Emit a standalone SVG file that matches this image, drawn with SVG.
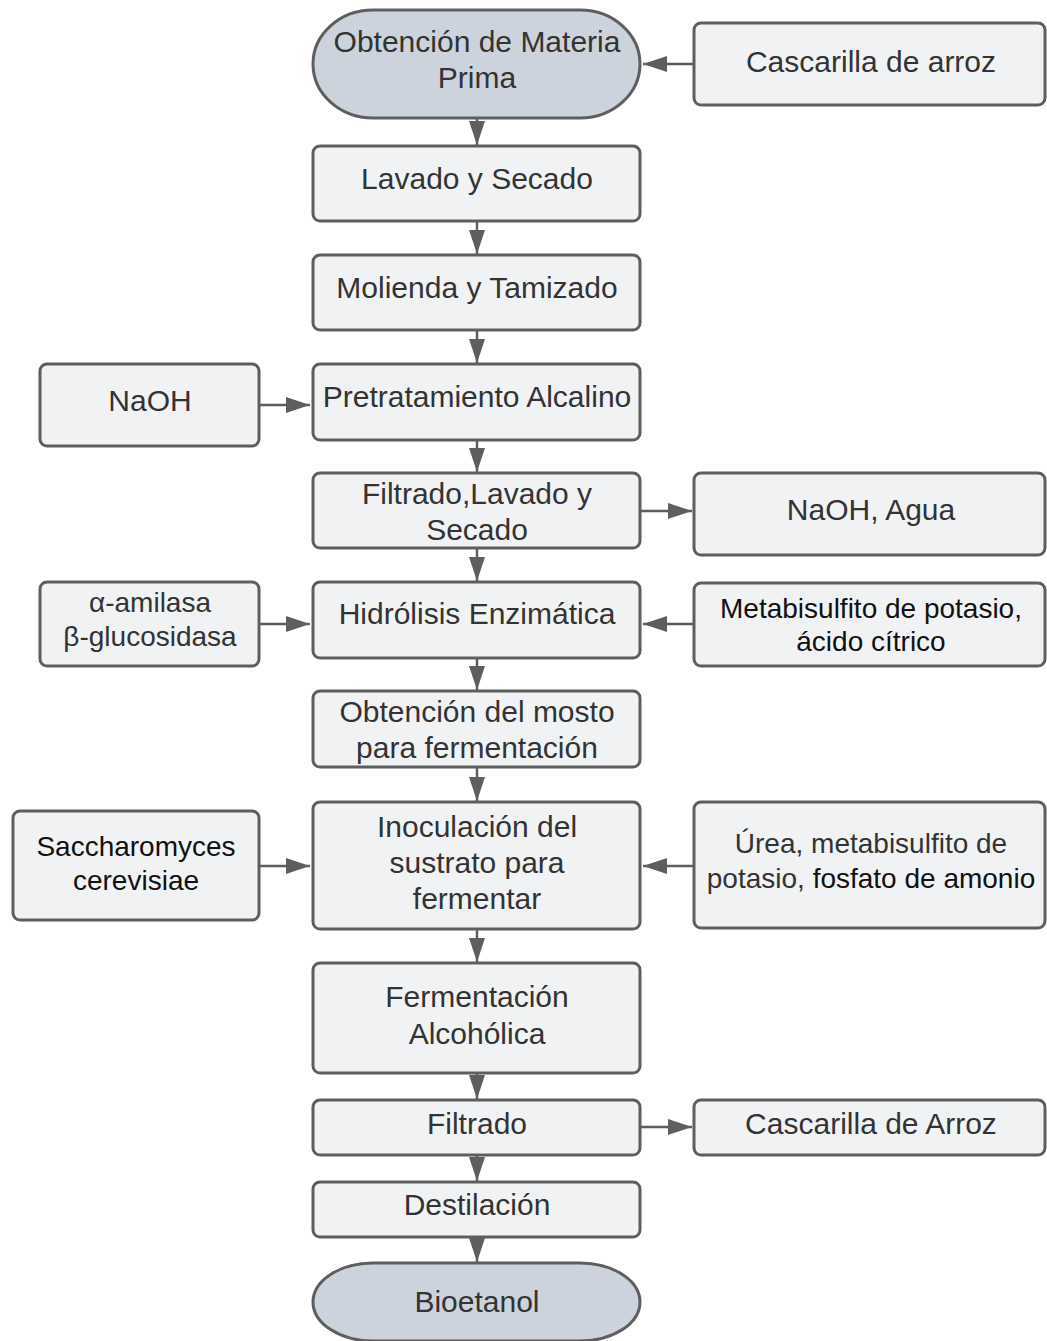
<svg xmlns="http://www.w3.org/2000/svg" width="1047" height="1341" viewBox="0 0 1047 1341">
  <style>
    .box { fill: #f1f2f4; stroke: #5e5e5e; stroke-width: 3; }
    .term { fill: #cdd3dc; stroke: #5e5e5e; stroke-width: 3; }
    .lbl { font-family: "Liberation Sans", Arial, sans-serif; font-size: 30px; fill: #333333; text-anchor: middle; }
    .sm { font-size: 28px; }
    .dark { fill: #111111; }
    .conn { stroke: #5e5e5e; stroke-width: 2.5; fill: none; marker-end: url(#head); }
  </style>
  <defs>
    <marker id="head" markerUnits="userSpaceOnUse" markerWidth="24" markerHeight="16" refX="24" refY="8" orient="auto">
      <path d="M0,0 L24,8 L0,16 Z" fill="#5e5e5e"/>
    </marker>
  </defs>
  <rect width="1047" height="1341" fill="#ffffff"/>

  <!-- connectors -->
  <g id="connectors">
    <!-- main column -->
    <line class="conn" x1="477" y1="119" x2="477" y2="145"/>
    <line class="conn" x1="477" y1="222" x2="477" y2="254"/>
    <line class="conn" x1="477" y1="331" x2="477" y2="363"/>
    <line class="conn" x1="477" y1="441" x2="477" y2="472"/>
    <line class="conn" x1="477" y1="549" x2="477" y2="581"/>
    <line class="conn" x1="477" y1="659" x2="477" y2="690"/>
    <line class="conn" x1="477" y1="768" x2="477" y2="801"/>
    <line class="conn" x1="477" y1="930" x2="477" y2="962"/>
    <line class="conn" x1="477" y1="1074" x2="477" y2="1099"/>
    <line class="conn" x1="477" y1="1156" x2="477" y2="1181"/>
    <line class="conn" x1="477" y1="1238" x2="477" y2="1262"/>
    <!-- side inputs / outputs -->
    <line class="conn" x1="693" y1="64" x2="643" y2="64"/>
    <line class="conn" x1="260" y1="405" x2="310" y2="405"/>
    <line class="conn" x1="641" y1="511" x2="692" y2="511"/>
    <line class="conn" x1="260" y1="624" x2="310" y2="624"/>
    <line class="conn" x1="693" y1="624" x2="643" y2="624"/>
    <line class="conn" x1="260" y1="866" x2="310" y2="866"/>
    <line class="conn" x1="693" y1="866" x2="643" y2="866"/>
    <line class="conn" x1="641" y1="1127" x2="692" y2="1127"/>
  </g>

  <g id="n-materia-prima">
    <rect class="term" x="313" y="10" width="327" height="108" rx="60" ry="54"/>
    <text class="lbl" x="477" y="52">Obtención de Materia</text>
    <text class="lbl" x="477" y="88">Prima</text>
  </g>
  <g id="n-cascarilla">
    <rect class="box" x="694" y="23" width="351" height="82" rx="7"/>
    <text class="lbl" x="871" y="72">Cascarilla de arroz</text>
  </g>
  <g id="n-lavado">
    <rect class="box" x="313" y="146" width="327" height="75" rx="7"/>
    <text class="lbl" x="477" y="189">Lavado y Secado</text>
  </g>
  <g id="n-molienda">
    <rect class="box" x="313" y="255" width="327" height="75" rx="7"/>
    <text class="lbl" x="477" y="298">Molienda y Tamizado</text>
  </g>
  <g id="n-naoh">
    <rect class="box" x="40" y="364" width="219" height="82" rx="7"/>
    <text class="lbl" x="150" y="411">NaOH</text>
  </g>
  <g id="n-pretratamiento">
    <rect class="box" x="313" y="364" width="327" height="76" rx="7"/>
    <text class="lbl" x="477" y="407">Pretratamiento Alcalino</text>
  </g>
  <g id="n-filtrado-lavado">
    <rect class="box" x="313" y="473" width="327" height="75" rx="7"/>
    <text class="lbl" x="477" y="504">Filtrado,Lavado y</text>
    <text class="lbl" x="477" y="540">Secado</text>
  </g>
  <g id="n-naoh-agua">
    <rect class="box" x="694" y="473" width="351" height="82" rx="7"/>
    <text class="lbl" x="871" y="520">NaOH, Agua</text>
  </g>
  <g id="n-enzimas">
    <rect class="box" x="40" y="582" width="219" height="84" rx="7"/>
    <text class="lbl sm" x="150" y="612">α-amilasa</text>
    <text class="lbl sm" x="150" y="646">β-glucosidasa</text>
  </g>
  <g id="n-hidrolisis">
    <rect class="box" x="313" y="582" width="327" height="76" rx="7"/>
    <text class="lbl" x="477" y="624">Hidrólisis Enzimática</text>
  </g>
  <g id="n-metabisulfito">
    <rect class="box" x="694" y="583" width="351" height="83" rx="7"/>
    <text class="lbl sm dark" x="871" y="618">Metabisulfito de potasio,</text>
    <text class="lbl sm dark" x="871" y="651">ácido cítrico</text>
  </g>
  <g id="n-mosto">
    <rect class="box" x="313" y="691" width="327" height="76" rx="7"/>
    <text class="lbl" x="477" y="722">Obtención del mosto</text>
    <text class="lbl" x="477" y="758">para fermentación</text>
  </g>
  <g id="n-saccharomyces">
    <rect class="box" x="13" y="811" width="246" height="109" rx="7"/>
    <text class="lbl sm dark" x="136" y="856">Saccharomyces</text>
    <text class="lbl sm dark" x="136" y="890">cerevisiae</text>
  </g>
  <g id="n-inoculacion">
    <rect class="box" x="313" y="802" width="327" height="127" rx="7"/>
    <text class="lbl" x="477" y="837">Inoculación del</text>
    <text class="lbl" x="477" y="873">sustrato para</text>
    <text class="lbl" x="477" y="909">fermentar</text>
  </g>
  <g id="n-urea">
    <rect class="box" x="694" y="802" width="351" height="126" rx="7"/>
    <text class="lbl sm" x="871" y="853">Úrea, metabisulfito de</text>
    <text class="lbl sm" x="871" y="888">potasio, <tspan class="dark">fosfato de amonio</tspan></text>
  </g>
  <g id="n-fermentacion">
    <rect class="box" x="313" y="963" width="327" height="110" rx="7"/>
    <text class="lbl" x="477" y="1007">Fermentación</text>
    <text class="lbl" x="477" y="1044">Alcohólica</text>
  </g>
  <g id="n-filtrado">
    <rect class="box" x="313" y="1100" width="327" height="55" rx="7"/>
    <text class="lbl" x="477" y="1134">Filtrado</text>
  </g>
  <g id="n-cascarilla-2">
    <rect class="box" x="694" y="1100" width="351" height="55" rx="7"/>
    <text class="lbl" x="871" y="1134">Cascarilla de Arroz</text>
  </g>
  <g id="n-destilacion">
    <rect class="box" x="313" y="1182" width="327" height="55" rx="7"/>
    <text class="lbl" x="477" y="1215">Destilación</text>
  </g>
  <g id="n-bioetanol">
    <rect class="term" x="313" y="1263" width="327" height="78" rx="60" ry="39"/>
    <text class="lbl" x="477" y="1312">Bioetanol</text>
  </g>
</svg>
